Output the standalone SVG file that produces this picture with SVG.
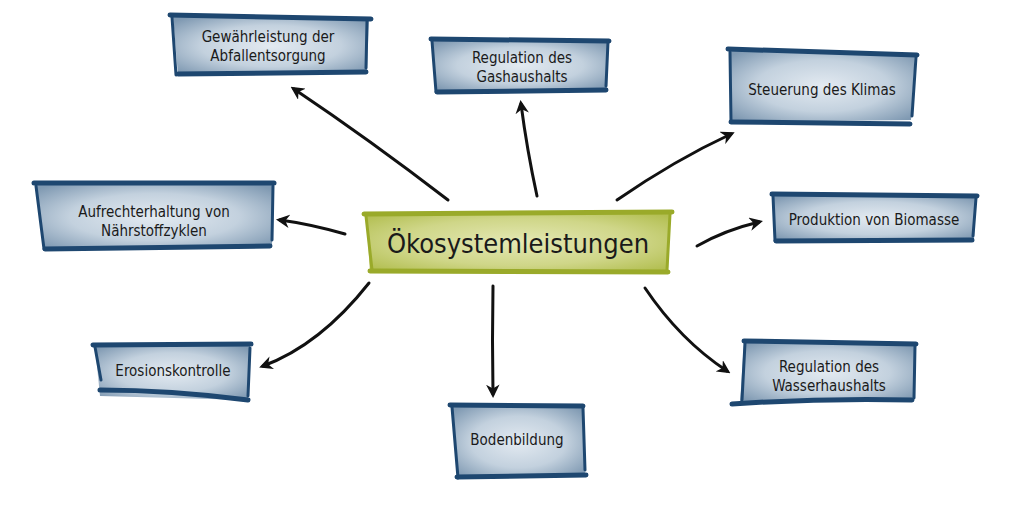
<svg xmlns="http://www.w3.org/2000/svg" width="1024" height="512" viewBox="0 0 1024 512">
<defs>
<radialGradient id="blue" cx="50%" cy="50%" r="65%">
<stop offset="0" stop-color="#e3eaf1"/>
<stop offset="0.55" stop-color="#c3d1de"/>
<stop offset="1" stop-color="#7f99b2"/>
</radialGradient>
<radialGradient id="green" cx="50%" cy="50%" r="65%">
<stop offset="0" stop-color="#e4e8b4"/>
<stop offset="0.6" stop-color="#cfd688"/>
<stop offset="1" stop-color="#b3bf52"/>
</radialGradient>
<marker id="arr" viewBox="0 0 10 10" refX="7" refY="5" markerWidth="4.5" markerHeight="4.5" orient="auto" markerUnits="strokeWidth">
<path d="M0,0 L10,5 L0,10 L3,5 Z" fill="#111"/>
</marker>
</defs>
<style>
.bf{fill:url(#blue)}
.be{fill:none;stroke:#1e4770;stroke-linecap:round;stroke-linejoin:round}
.h{stroke-width:5}
.v{stroke-width:3}
.gf{fill:url(#green)}
.ge{fill:none;stroke:#9aaa2a;stroke-linecap:round}
.t{font-family:"Liberation Sans Narrow","DejaVu Sans Condensed","Liberation Sans",sans-serif;font-size:15px;fill:#1a1a1a;text-anchor:middle}
.c{font-family:"Liberation Sans Narrow","DejaVu Sans Condensed","Liberation Sans",sans-serif;font-size:27px;fill:#1a1a1a;text-anchor:middle}
.a{fill:none;stroke:#111;stroke-width:3;stroke-linecap:round;marker-end:url(#arr)}
</style>
<rect width="1024" height="512" fill="#ffffff"/>

<g id="connectors">
<path class="a" d="M448,200 Q370,140 294,89"/>
<path class="a" d="M537,196 Q527,150 521,104"/>
<path class="a" d="M617,200 Q675,160 731,134"/>
<path class="a" d="M697,246 Q725,230 759,222"/>
<path class="a" d="M645,288 Q680,340 727,371"/>
<path class="a" d="M493,286 Q492,340 493,394"/>
<path class="a" d="M369,283 Q320,345 263,366"/>
<path class="a" d="M345,234 Q310,224 280,220"/>
</g>

<g id="center">
<polygon class="gf" points="366,214 670,212 668,270 370,272"/>
<path class="ge" stroke-width="5" d="M364,214 L672,212"/>
<path class="ge" stroke-width="3" d="M366,216 L372,270"/>
<path class="ge" stroke-width="5" d="M370,271 L668,272"/>
<path class="ge" stroke-width="3" d="M670,214 L667,270"/>
<text class="c" x="518" y="253">Ökosystemleistungen</text>
</g>

<g id="n-abfall">
<polygon class="bf" points="173,17 369,17 367,72 178,75"/>
<path class="be h" d="M170,15 L371,19"/>
<path class="be v" d="M172,17 L176,75"/>
<path class="be h" d="M178,74 L366,72"/>
<path class="be v" d="M367,21 L366,68"/>
<text class="t" x="268" y="42">Gewährleistung der</text>
<text class="t" x="268" y="61">Abfallentsorgung</text>
</g>

<g id="n-gas">
<polygon class="bf" points="432,40 608,40 607,91 436,91"/>
<path class="be h" d="M431,39 L609,41"/>
<path class="be v" d="M432,41 L436,92"/>
<path class="be h" d="M437,92 L606,90"/>
<path class="be v" d="M608,42 L606,86"/>
<text class="t" x="522" y="63">Regulation des</text>
<text class="t" x="522" y="82">Gashaushalts</text>
</g>

<g id="n-klima">
<polygon class="bf" points="730,50 915,54 911,120 730,122"/>
<path class="be h" d="M728,49 L917,55"/>
<path class="be v" d="M730,52 L731,122"/>
<path class="be h" d="M731,122 L910,124"/>
<path class="be v" d="M916,57 L912,116"/>
<text class="t" x="822" y="95">Steuerung des Klimas</text>
</g>

<g id="n-naehr">
<polygon class="bf" points="36,184 273,184 272,247 44,250"/>
<path class="be h" d="M34,183 L274,183"/>
<path class="be v" d="M36,186 L44,249"/>
<path class="be h" d="M45,249 L270,246"/>
<path class="be v" d="M273,186 L272,240"/>
<text class="t" x="154" y="217">Aufrechterhaltung von</text>
<text class="t" x="154" y="236">Nährstoffzyklen</text>
</g>

<g id="n-bio">
<polygon class="bf" points="773,195 976,195 974,240 776,241"/>
<path class="be h" d="M772,194 L977,196"/>
<path class="be v" d="M773,196 L775,241"/>
<path class="be h" d="M776,241 L972,240"/>
<path class="be v" d="M976,198 L973,236"/>
<text class="t" x="874" y="225">Produktion von Biomasse</text>
</g>

<g id="n-erosion">
<polygon class="bf" points="95,346 250,345 248,400 100,396"/>
<path class="be h" d="M93,345 L251,344"/>
<path class="be v" d="M95,347 L101,380"/>
<path class="be h" d="M100,390 Q170,390 248,400"/>
<path class="be v" d="M250,348 L248,396"/>
<text class="t" x="173" y="376">Erosionskontrolle</text>
</g>

<g id="n-boden">
<polygon class="bf" points="452,406 582,406 585,475 458,478"/>
<path class="be h" d="M450,405 L583,406"/>
<path class="be v" d="M452,407 L458,478"/>
<path class="be h" d="M457,477 L586,475"/>
<path class="be v" d="M583,408 L585,470"/>
<text class="t" x="517" y="445">Bodenbildung</text>
</g>

<g id="n-wasser">
<polygon class="bf" points="744,342 915,343 914,398 740,403"/>
<path class="be h" d="M744,341 L916,344"/>
<path class="be v" d="M745,343 L742,400"/>
<path class="be h" d="M732,404 Q820,398 912,400"/>
<path class="be v" d="M915,346 L914,398"/>
<text class="t" x="829" y="372">Regulation des</text>
<text class="t" x="829" y="391">Wasserhaushalts</text>
</g>
</svg>
